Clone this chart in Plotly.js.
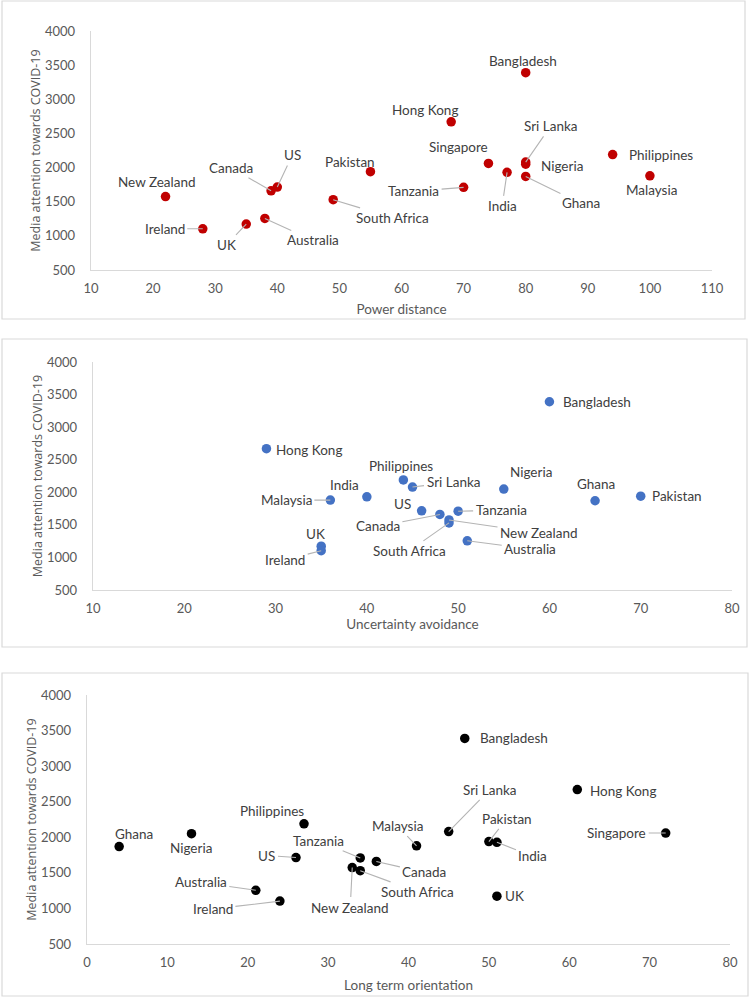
<!DOCTYPE html>
<html>
<head>
<meta charset="utf-8">
<script src="https://cdn.plot.ly/plotly-3.0.1.min.js"></script>
<style>html,body{margin:0;padding:0;background:#fff;}#chart{width:750px;height:997px;}</style>
</head>
<body>
<div id="chart"></div>
<script>
// ---------------- DATA ----------------
const countries = ["Bangladesh","Hong Kong","Philippines","Sri Lanka","Singapore","Nigeria","Pakistan","India","Malaysia","Ghana","Tanzania","US","Canada","New Zealand","South Africa","Australia","UK","Ireland"];
const mediaAttention = [3390,2670,2190,2080,2060,2050,1940,1930,1880,1870,1710,1715,1660,1575,1530,1255,1172,1103];
const powerDistance = [80,68,94,80,74,80,55,77,100,80,70,40,39,22,49,38,35,28];
const uncertaintyAvoidance = [60,29,44,45,8,55,70,40,36,65,50,46,48,49,49,51,35,35];
const longTermOrientation = [47,61,27,45,72,13,50,51,41,4,34,26,36,33,34,21,51,24];

const xTitles = ["Power distance","Uncertainty avoidance","Long term orientation"];
const yTitle = "Media attention towards COVID-19";

// ---------------- LAYOUT / STYLE (not data) ----------------
const W = 750, H = 997;
const px = v => v / W;
const py = v => 1 - v / H;

// plot areas in page pixels [left, right, top, bottom]
const areas = [
  [91, 712, 31, 270],
  [93, 732, 362, 590],
  [87, 730, 695, 944]
];
const frames = [
  [2, 745, 1, 319],
  [2, 747, 339, 647],
  [2, 748, 673, 996]
];
const xRanges = [[10,110],[10,80],[0,80]];
const colors = ["#C00000","#4472C4","#000000"];
const xTitleStandoff = [9, 4, 11];
const yTitleStandoff = [1, 1, 1];

// label placement per panel: [dx, dy, leader]
const placements = [
  {"Bangladesh":[-3,-12,0],"Hong Kong":[-26,-12,0],"Philippines":[48,0,0],"Sri Lanka":[25,-36,1],
   "Singapore":[-30,-16,0],"Nigeria":[36,2,0],"Pakistan":[-20,-10,0],"India":[-5,34,1],
   "Malaysia":[2,14,0],"Ghana":[55,27,1],"Tanzania":[-50,4,1],"US":[15,-32,1],"Canada":[-40,-23,1],
   "New Zealand":[-9,-15,0],"South Africa":[59,18,1],"Australia":[48,22,1],"UK":[-20,21,1],"Ireland":[-38,0,1]},
  {"Bangladesh":[48,0,0],"Hong Kong":[43,1,0],"Philippines":[-2,-14,0],"Sri Lanka":[41,-5,1],
   "Nigeria":[27,-17,0],"Pakistan":[36,0,0],"India":[-22,-12,0],"Malaysia":[-44,0,1],
   "Ghana":[1,-17,0],"Tanzania":[43,-1,1],"US":[-19,-7,0],"Canada":[-62,12,1],
   "New Zealand":[90,13,1],"South Africa":[-40,28,1],"Australia":[63,8,1],"UK":[-6,-12,0],"Ireland":[-36,9,1]},
  {"Bangladesh":[49,0,0],"Hong Kong":[46,1,0],"Philippines":[-32,-13,0],"Sri Lanka":[41,-42,1],
   "Singapore":[-49,0,1],"Nigeria":[0,14,0],"Pakistan":[18,-23,1],"India":[36,14,1],
   "Malaysia":[-19,-20,1],"Ghana":[15,-13,0],"Tanzania":[-42,-17,1],"US":[-29,-2,1],
   "Canada":[48,11,1],"New Zealand":[-2,40,1],"South Africa":[57,21,1],"Australia":[-55,-8,1],
   "UK":[18,0,0],"Ireland":[-67,8,1]}
];

const labelFont = {family: "Lato, 'Liberation Sans', sans-serif", size: 13.5, color: "#404040"};
const tickFont = {family: "Lato, 'Liberation Sans', sans-serif", size: 13, color: "#595959"};
const xTitleFont = {family: "Lato, 'Liberation Sans', sans-serif", size: 13.5, color: "#595959"};
const yTitleFont = {family: "'Open Sans', 'DejaVu Sans', sans-serif", size: 12.5, color: "#595959"};

const xSeries = [powerDistance, uncertaintyAvoidance, longTermOrientation];
const data = [];
const layout = {
  width: W, height: H,
  margin: {l:0, r:0, t:0, b:0},
  paper_bgcolor: "#ffffff", plot_bgcolor: "#ffffff",
  showlegend: false,
  annotations: [], shapes: []
};

for (let p = 0; p < 3; p++) {
  const sfx = p === 0 ? "" : String(p + 1);
  const xa = "x" + sfx, ya = "y" + sfx;
  const [l, r, t, b] = areas[p];
  layout["xaxis" + sfx] = {
    domain: [px(l), px(r)], anchor: ya, range: xRanges[p], dtick: 10, tick0: 0,
    showgrid: false, zeroline: false, showline: true, linecolor: "#D9D9D9", linewidth: 1.3,
    ticks: "", ticklabelstandoff: 6, tickfont: tickFont, fixedrange: true,
    title: {text: xTitles[p], font: xTitleFont, standoff: xTitleStandoff[p]}
  };
  layout["yaxis" + sfx] = {
    domain: [py(b), py(t)], anchor: xa, range: [500, 4000], dtick: 500, tick0: 0,
    showgrid: false, zeroline: false, showline: true, linecolor: "#D9D9D9", linewidth: 1.3,
    ticks: "", ticklabelstandoff: 12, tickfont: tickFont, fixedrange: true,
    title: {text: yTitle, font: yTitleFont, standoff: yTitleStandoff[p]}
  };
  const [fl, fr, ft, fb] = frames[p];
  layout.shapes.push({type: "rect", xref: "paper", yref: "paper",
    x0: px(fl), x1: px(fr), y0: py(fb), y1: py(ft),
    line: {color: "#D9D9D9", width: 1.2}, fillcolor: "rgba(0,0,0,0)"});

  data.push({
    type: "scatter", mode: "markers", xaxis: xa, yaxis: ya,
    x: xSeries[p], y: mediaAttention, text: countries,
    marker: {color: colors[p], size: 9.5},
    cliponaxis: true, hoverinfo: "text+x+y"
  });

  countries.forEach((c, i) => {
    const pl = placements[p][c];
    if (!pl) return;
    const xv = xSeries[p][i];
    if (xv < xRanges[p][0] || xv > xRanges[p][1]) return;
    const [dx, dy, leader] = pl;
    const ann = {xref: xa, yref: ya, x: xv, y: mediaAttention[i], text: c, font: labelFont};
    if (leader) {
      Object.assign(ann, {showarrow: true, ax: dx, ay: dy, arrowhead: 0, arrowwidth: 1.1,
        arrowcolor: "#B4B4B4", standoff: 0, startstandoff: 1});
    } else {
      Object.assign(ann, {showarrow: false, xshift: dx, yshift: -dy});
    }
    layout.annotations.push(ann);
  });
}

Plotly.newPlot("chart", data, layout, {displayModeBar: false, staticPlot: true});
</script>
</body>
</html>
